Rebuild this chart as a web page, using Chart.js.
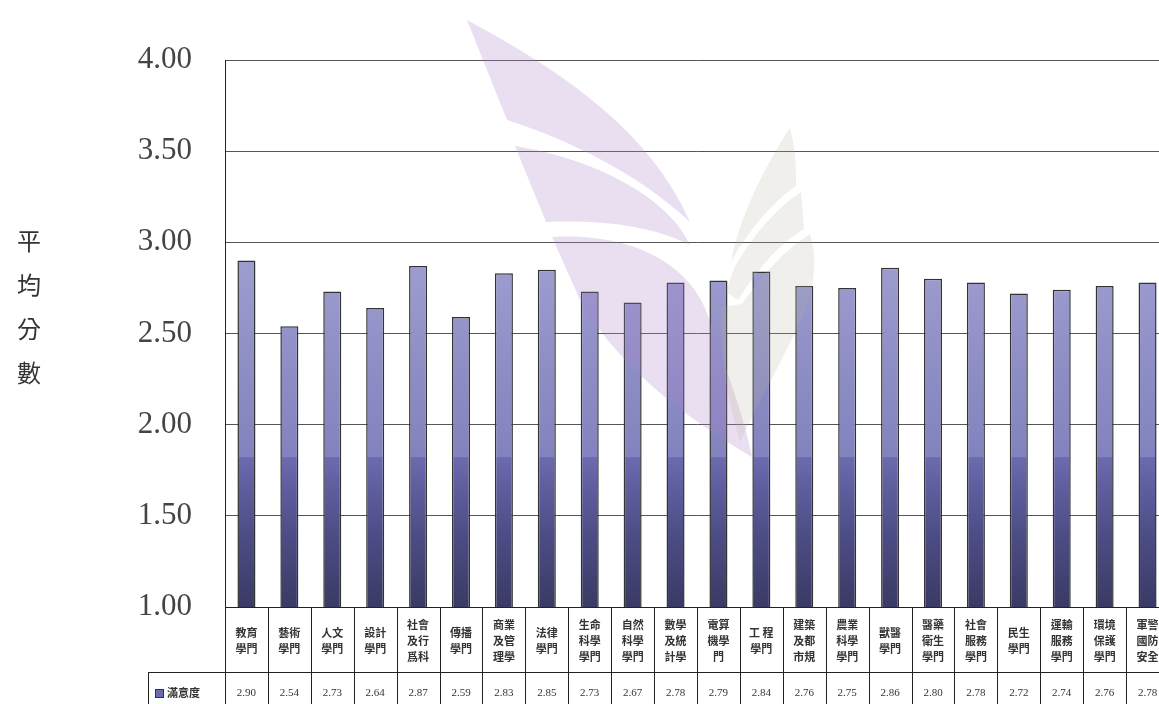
<!DOCTYPE html>
<html>
<head>
<meta charset="utf-8">
<script src="https://cdn.jsdelivr.net/npm/chart.js@4/dist/chart.umd.min.js"></script>
<style>
  html, body { margin: 0; padding: 0; background: #fff; overflow: hidden; }
  #wrap { position: relative; width: 1170px; height: 704px; }
  #ytitle {
    position: absolute; left: 15px; top: 218px; width: 28px;
    font: 24px "Noto Sans CJK TC", serif; line-height: 44px; color: #333;
    text-align: center;
  }
</style>
</head>
<body>
<div id="wrap">
  <canvas id="c" width="1170" height="704"></canvas>
  <div id="ytitle">平<br>均<br>分<br>數</div>
</div>
<script>
const categories = [
  ["教育", "學門"], ["藝術", "學門"], ["人文", "學門"], ["設計", "學門"],
  ["社會", "及行", "爲科"], ["傳播", "學門"], ["商業", "及管", "理學"], ["法律", "學門"],
  ["生命", "科學", "學門"], ["自然", "科學", "學門"], ["數學", "及統", "計學"], ["電算", "機學", "門"],
  ["工 程", "學門"], ["建築", "及都", "市規"], ["農業", "科學", "學門"], ["獸醫", "學門"],
  ["醫藥", "衛生", "學門"], ["社會", "服務", "學門"], ["民生", "學門"], ["運輸", "服務", "學門"],
  ["環境", "保護", "學門"], ["軍警", "國防", "安全"]
]
const seriesName = "滿意度"
const satisfaction = [
  2.90, 2.54, 2.73, 2.64, 2.87, 2.59, 2.83, 2.85, 2.73, 2.67, 2.78,
  2.79, 2.84, 2.76, 2.75, 2.86, 2.80, 2.78, 2.72, 2.74, 2.76, 2.78
]
const yTicks = [1.00, 1.50, 2.00, 2.50, 3.00, 3.50, 4.00]

function barGradient(ctx) {
  const area = ctx.chart.chartArea
  if (!area) return "#8080bb"
  const g = ctx.chart.ctx.createLinearGradient(0, area.top, 0, area.bottom)
  g.addColorStop(0, "#a8a8d8")
  g.addColorStop(0.35, "#9e9ed0")
  g.addColorStop(0.725, "#8282be")
  g.addColorStop(0.727, "#6a6aae")
  g.addColorStop(0.86, "#4e4e88")
  g.addColorStop(1, "#3a3a64")
  return g
}

// faint logo, painted over the bars
const watermark = {
  id: "watermark",
  afterDatasetsDraw(chart) {
    const c = chart.ctx
    c.save()
    c.fillStyle = "rgba(170, 130, 200, 0.26)"
    c.beginPath()
    c.moveTo(467, 20)
    c.bezierCurveTo(560, 70, 650, 130, 690, 222)
    c.bezierCurveTo(640, 175, 570, 140, 507, 120)
    c.closePath()
    c.fill()
    c.beginPath()
    c.moveTo(515, 146)
    c.bezierCurveTo(600, 160, 670, 200, 690, 245)
    c.bezierCurveTo(650, 225, 600, 220, 546, 222)
    c.closePath()
    c.fill()
    c.beginPath()
    c.moveTo(552, 237)
    c.bezierCurveTo(640, 232, 700, 270, 712, 330)
    c.bezierCurveTo(730, 380, 745, 420, 752, 457)
    c.bezierCurveTo(690, 420, 620, 370, 580, 300)
    c.closePath()
    c.fill()

    c.fillStyle = "rgba(180, 176, 155, 0.2)"
    c.beginPath()
    c.moveTo(790, 128)
    c.quadraticCurveTo(797, 155, 796, 186)
    c.bezierCurveTo(775, 200, 750, 228, 731, 262)
    c.bezierCurveTo(737, 228, 757, 178, 790, 128)
    c.fill()
    c.beginPath()
    c.moveTo(801, 192)
    c.lineTo(804, 229)
    c.bezierCurveTo(780, 243, 758, 268, 738, 300)
    c.lineTo(726, 292)
    c.lineTo(734, 268)
    c.bezierCurveTo(755, 232, 778, 207, 801, 192)
    c.fill()
    c.beginPath()
    c.moveTo(810, 234)
    c.bezierCurveTo(818, 260, 815, 290, 800, 322)
    c.bezierCurveTo(785, 355, 760, 400, 740, 442)
    c.bezierCurveTo(728, 400, 718, 350, 721, 307)
    c.lineTo(742, 304)
    c.bezierCurveTo(762, 276, 784, 250, 810, 234)
    c.fill()
    c.restore()
  }
}

// data table under the plot
const dataTable = {
  id: "dataTable",
  afterDraw(chart) {
    const c = chart.ctx
    const x = chart.scales.x
    const area = chart.chartArea
    const step = x.getPixelForValue(1) - x.getPixelForValue(0)
    const rowY = 672
    c.save()
    c.strokeStyle = "#222"
    c.lineWidth = 1
    c.beginPath()
    for (let i = 0; i <= categories.length; i++) {
      const px = Math.round(x.getPixelForValue(i) - step / 2) + 0.5
      c.moveTo(px, i === 0 ? area.top : area.bottom)
      c.lineTo(px, 704)
    }
    c.moveTo(148, rowY + 0.5)
    c.lineTo(chart.width, rowY + 0.5)
    c.moveTo(148.5, rowY)
    c.lineTo(148.5, 704)
    c.stroke()

    c.fillStyle = "#6b6bb0"
    c.fillRect(155, 689, 8, 8)
    c.strokeStyle = "#333"
    c.strokeRect(155.5, 689.5, 8, 8)
    c.fillStyle = "#333"
    c.font = "bold 11px 'Noto Sans CJK TC'"
    c.textBaseline = "middle"
    c.textAlign = "left"
    c.fillText(seriesName, 167, 693)

    c.font = "11px 'Liberation Serif'"
    c.textAlign = "center"
    satisfaction.forEach((v, i) => {
      c.fillText(v.toFixed(2), x.getPixelForValue(i), 693)
    })
    c.restore()
  }
}

new Chart(document.getElementById("c"), {
  type: "bar",
  data: {
    labels: categories,
    datasets: [{
      label: seriesName,
      data: satisfaction,
      backgroundColor: barGradient,
      borderColor: "#333",
      borderWidth: 1.5,
      borderSkipped: false,
      barPercentage: 0.42,
      categoryPercentage: 1
    }]
  },
  options: {
    responsive: false,
    animation: false,
    layout: { padding: { top: 60, right: 1, left: 0, bottom: 0 } },
    plugins: {
      legend: { display: false },
      tooltip: { enabled: false }
    },
    scales: {
      x: {
        grid: { display: false },
        border: { display: true, color: "#222", width: 1 },
        ticks: {
          autoSkip: false,
          maxRotation: 0,
          minRotation: 0,
          crossAlign: "center",
          padding: 10,
          color: "#333",
          font: { family: "'Noto Sans CJK TC'", size: 11, weight: "bold", lineHeight: 1.45 }
        },
        afterFit: s => { s.height = 97 }
      },
      y: {
        min: 1,
        max: 4,
        afterBuildTicks: s => { s.ticks = yTicks.map(v => ({ value: v })) },
        grid: { color: "#555", lineWidth: 1, drawTicks: false },
        border: { display: true, color: "#222", width: 1 },
        ticks: {
          padding: 33,
          color: "#444",
          font: { family: "'Liberation Serif'", size: 31 },
          callback: v => Number(v).toFixed(2)
        },
        afterFit: s => { s.width = 225 }
      }
    }
  },
  plugins: [watermark, dataTable]
})
</script>
</body>
</html>
